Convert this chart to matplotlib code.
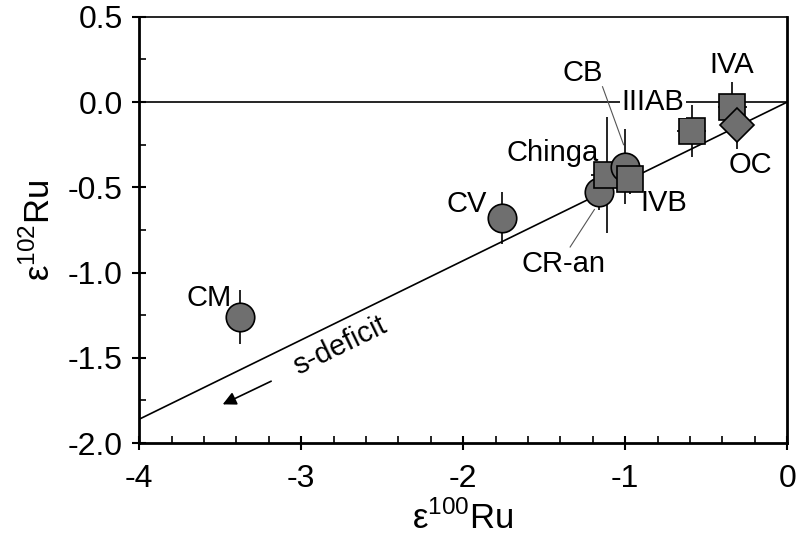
import numpy as np
import matplotlib.pyplot as plt

plt.rcParams['font.family'] = ['Liberation Sans', 'DejaVu Sans']
plt.rcParams['mathtext.fontset'] = 'custom'
plt.rcParams['mathtext.rm'] = 'Liberation Sans'

# groupes de météorites: eps100Ru, eps102Ru, erreurs
names = ['CM', 'CV', 'CR-an', 'Chinga', 'CB', 'IVB', 'IIIAB', 'IVA', 'OC']
e100 = [-3.38, -1.76, -1.16, -1.11, -1.00, -0.97, -0.59, -0.34, -0.31]
e102 = [-1.26, -0.68, -0.53, -0.43, -0.38, -0.45, -0.17, -0.03, -0.135]
err100 = [0.0, 0.0, 0.0, 0.10, 0.0, 0.05, 0.09, 0.09, 0.0]
err102 = [0.16, 0.15, 0.10, 0.34, 0.22, 0.09, 0.15, 0.15, 0.14]
shapes = ['o', 'o', 'o', 's', 'o', 's', 's', 's', 'D']

# droite du déficit s
slope = 0.465
xline = np.array([-4, 0])

fig = plt.figure(figsize=(8, 5.43), dpi=100)
ax = fig.add_axes([0.174, 0.184, 0.81, 0.785])

ax.axhline(0, color='k', lw=1.2, zorder=1)
ax.plot(xline, slope * xline, color='k', lw=1.2, zorder=1)

sizes = {'o': 20.5, 's': 18.5, 'D': 17}
for x, y, ex, ey, m in zip(e100, e102, err100, err102, shapes):
    ax.errorbar(x, y, xerr=ex if ex else None, yerr=ey, fmt='none',
                ecolor='k', elinewidth=1.2, capsize=0, zorder=2)
    ax.plot(x, y, marker=m, ms=sizes[m], mfc='#6f6f6f', mec='k', mew=1.2,
            ls='none', zorder=3)

fs = 21
ax.text(-3.57, -1.15, 'CM', fontsize=fs, ha='center', va='center')
ax.text(-1.98, -0.60, 'CV', fontsize=fs, ha='center', va='center')
ax.text(-1.38, -0.95, 'CR-an', fontsize=fs, ha='center', va='center')
ax.text(-1.45, -0.30, 'Chinga', fontsize=fs, ha='center', va='center')
ax.text(-1.26, 0.17, 'CB', fontsize=fs, ha='center', va='center')
ax.text(-0.76, -0.59, 'IVB', fontsize=fs, ha='center', va='center')
ax.text(-0.83, 0.0, 'IIIAB', fontsize=fs, ha='center', va='center',
        bbox=dict(fc='white', ec='none', pad=1))
ax.text(-0.34, 0.22, 'IVA', fontsize=fs, ha='center', va='center')
ax.text(-0.23, -0.37, 'OC', fontsize=fs, ha='center', va='center')
ax.plot([-1.14, -1.01], [0.09, -0.25], color='#555555', lw=0.8, zorder=1)
ax.plot([-1.19, -1.34], [-0.63, -0.85], color='#555555', lw=0.8, zorder=1)

ax.text(-2.76, -1.43, 's-deficit', fontsize=fs, ha='center', va='center',
        rotation=26, rotation_mode='anchor')
ax.annotate('', xy=(-3.50, -1.78), xytext=(-3.17, -1.63),
            arrowprops=dict(arrowstyle='-|>', color='k', lw=1.2,
                            mutation_scale=20))

ax.set_xlim(-4, 0)
ax.set_ylim(-2.0, 0.5)
ax.set_xticks([-4, -3, -2, -1, 0])
ax.set_xticklabels(['-4', '-3', '-2', '-1', '0'])
ax.set_yticks(np.arange(-2.0, 0.51, 0.5))
ax.set_yticklabels(['%.1f' % v for v in np.arange(-2.0, 0.51, 0.5)])
ax.set_xticks(np.arange(-4, 0.01, 0.2), minor=True)
ax.set_yticks(np.arange(-2.0, 0.51, 0.25), minor=True)
ax.tick_params(which='major', direction='inout', length=10, width=1.5,
               labelsize=23, pad=7)
ax.tick_params(axis='x', which='major', pad=10)
ax.tick_params(which='minor', direction='in', length=5, width=1.2)
for s in ['left', 'bottom', 'right']:
    ax.spines[s].set_linewidth(2)
ax.spines['top'].set_linewidth(1.2)

ax.set_xlabel(r'ε$^{\mathrm{100}}$Ru', fontsize=25, labelpad=5)
ax.set_ylabel(r'ε$^{\mathrm{102}}$Ru', fontsize=25, labelpad=8)

fig.savefig('out.png', dpi=100)
